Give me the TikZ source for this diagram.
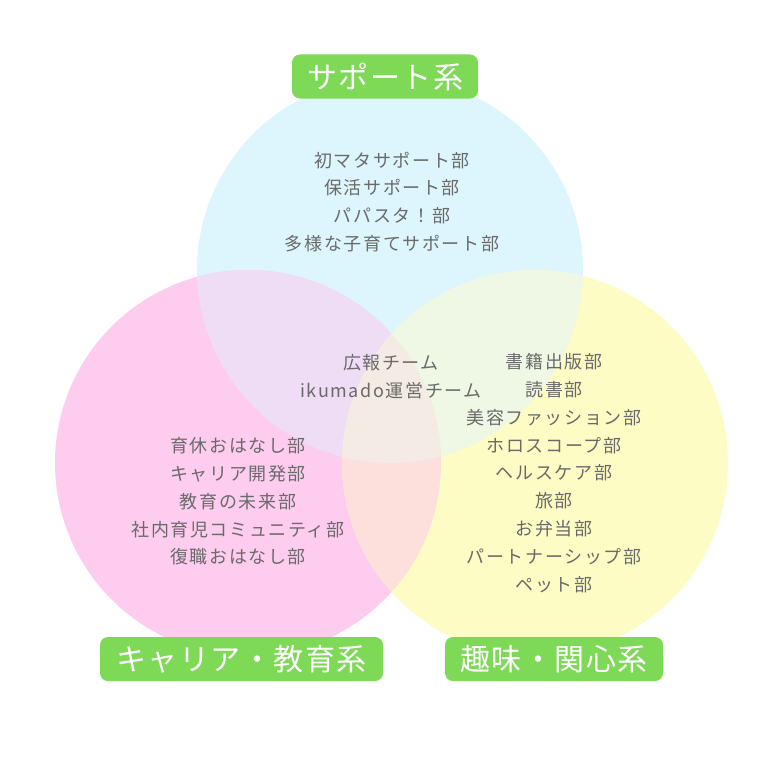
\documentclass[tikz,border=0pt]{standalone}
\usepackage{fontspec}
\newfontfamily\jp[LetterSpace=9]{Noto Sans CJK JP}
\newfontfamily\jplabel[LetterSpace=5]{Noto Sans CJK JP}
\definecolor{cyanc}{HTML}{DDF5FD}
\definecolor{pinkc}{HTML}{FDCCEE}
\definecolor{yelc}{HTML}{FDFCC4}
\definecolor{tlc}{HTML}{EEDDF4}
\definecolor{trc}{HTML}{EEF8E4}
\definecolor{lrc}{HTML}{FDE0DC}
\definecolor{allc}{HTML}{F4ECE4}
\definecolor{greenlab}{HTML}{7ED957}
\definecolor{txtgray}{HTML}{6A6A6A}
\tikzset{
  grp/.style={align=center, text=txtgray, font=\jp\fontsize{18}{27.8}\selectfont, inner sep=0pt},
  catlabel/.style={fill=greenlab, rounded corners=8pt, text=white, font=\jplabel\fontsize{30}{32}\selectfont, inner sep=0pt, minimum height=44pt}
}
\begin{document}
\begin{tikzpicture}[x=1pt,y=-1pt]
\useasboundingbox (0,0) rectangle (768,768);
\fill[cyanc] (390,270) circle (193);
\fill[pinkc] (248,463) circle (193);
\fill[yelc] (535,463) circle (193);
\begin{scope}
  \clip (390,270) circle (193);
  \fill[tlc] (248,463) circle (193);
  \fill[trc] (535,463) circle (193);
\end{scope}
\begin{scope}
  \clip (248,463) circle (193);
  \fill[lrc] (535,463) circle (193);
  \clip (535,463) circle (193);
  \fill[allc] (390,270) circle (193);
\end{scope}

\node[grp] (support) at (392,202) {初マタサポート部\\保活サポート部\\パパスタ！部\\多様な子育てサポート部};
\node[grp] (center) at (391,376.5) {広報チーム\\ikumado運営チーム};
\node[grp] (hobby) at (554,473) {書籍出版部\\読書部\\美容ファッション部\\ホロスコープ部\\ヘルスケア部\\旅部\\お弁当部\\パートナーシップ部\\ペット部};
\node[grp] (career) at (238,501.5) {育休おはなし部\\キャリア開発部\\教育の未来部\\社内育児コミュニティ部\\復職おはなし部};

\node[catlabel, minimum width=186pt] (labsupport) at (385,76.5) {サポート系};
\node[catlabel, minimum width=283pt] (labcareer) at (241.5,659) {キャリア・教育系};
\node[catlabel, minimum width=218pt] (labhobby) at (554,659) {趣味・関心系};
\end{tikzpicture}
\end{document}
